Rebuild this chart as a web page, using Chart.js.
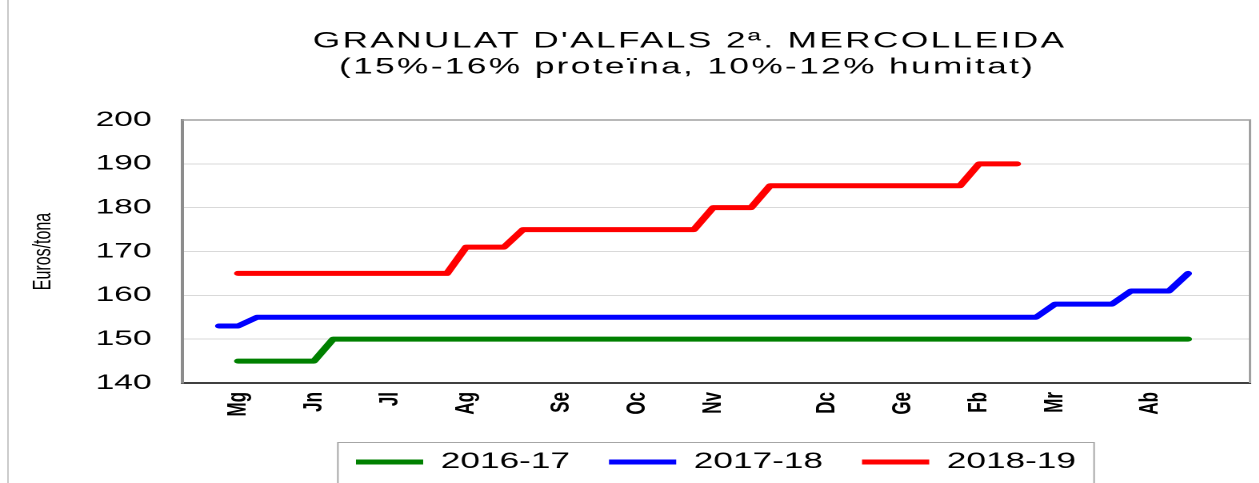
<!DOCTYPE html>
<html><head><meta charset="utf-8">
<script src="https://cdn.jsdelivr.net/npm/chart.js@4.4.1/dist/chart.umd.min.js"></script>
<style>
html,body{margin:0;padding:0;background:#fff;overflow:hidden;}
#wrap{width:787px;height:483px;transform:scaleX(1.6);transform-origin:0 0;}
</style></head><body>
<div id="wrap"><canvas id="c" width="787" height="483"></canvas></div>
<script>
const titleLines = ["GRANULAT D'ALFALS 2ª. MERCOLLEIDA", "(15%-16% proteïna, 10%-12% humitat)"];
const yAxisTitle = 'Euros/tona';
const seriesNames = ['2016-17', '2017-18', '2018-19'];
const seriesColors = ['#008000', '#0000FF', '#FF0000'];
const monthLabels = ['Mg', 'Jn', 'Jl', 'Ag', 'Se', 'Oc', 'Nv', 'Dc', 'Ge', 'Fb', 'Mr', 'Ab'];
const monthWeek = [1, 5, 9, 13, 18, 22, 26, 32, 36, 40, 44, 49];
const yTicks = [140, 150, 160, 170, 180, 190, 200];

const s2016 = [null,
  145, 145, 145, 145, 145,
  150, 150, 150, 150, 150, 150, 150, 150, 150, 150,
  150, 150, 150, 150, 150, 150, 150, 150, 150, 150,
  150, 150, 150, 150, 150, 150, 150, 150, 150, 150,
  150, 150, 150, 150, 150, 150, 150, 150, 150, 150,
  150, 150, 150, 150, 150, 150];
const s2017 = [153, 153,
  155, 155, 155, 155, 155, 155, 155, 155, 155, 155,
  155, 155, 155, 155, 155, 155, 155, 155, 155, 155,
  155, 155, 155, 155, 155, 155, 155, 155, 155, 155,
  155, 155, 155, 155, 155, 155, 155, 155, 155, 155,
  155, 155,
  158, 158, 158, 158,
  161, 161, 161,
  165];
const s2018 = [null,
  165, 165, 165, 165, 165, 165, 165, 165, 165, 165, 165, 165,
  171, 171, 171,
  175, 175, 175, 175, 175, 175, 175, 175, 175, 175,
  180, 180, 180,
  185, 185, 185, 185, 185, 185, 185, 185, 185, 185, 185,
  190, 190, 190,
  null, null, null, null, null, null, null, null, null];
const seriesData = [s2016, s2017, s2018];

const FONT = '"Liberation Sans", Arial, sans-serif';
Chart.defaults.font.family = FONT;
Chart.defaults.color = '#000';

const framePlugin = {
  id: 'frame',
  beforeDatasetsDraw(chart) {
    const {ctx, chartArea: a} = chart;
    ctx.save();
    ctx.strokeStyle = '#a0a0a0';
    ctx.lineWidth = 1.5;
    ctx.beginPath();
    ctx.moveTo(a.left, a.top); ctx.lineTo(a.right, a.top); ctx.lineTo(a.right, a.bottom);
    ctx.stroke();
    ctx.strokeStyle = '#c8c8c8';
    ctx.lineWidth = 1;
    ctx.beginPath(); ctx.moveTo(5, 0); ctx.lineTo(5, 483); ctx.stroke();
    ctx.restore();
  },
  afterDraw(chart) {
    const {ctx} = chart;
    const hb = chart.legend.legendHitBoxes;
    ctx.save();
    if (hb && hb.length) {
      const l = hb[0].left - 11.3;
      const last = hb[hb.length - 1];
      const r = last.left + last.width + 11.3;
      ctx.strokeStyle = '#a6a6a6';
      ctx.lineWidth = 1;
      ctx.strokeRect(l, 442.5, r - l, 60);
    }
    ctx.fillStyle = '#000';
    ctx.font = '22px ' + FONT;
    ctx.textAlign = 'center';
    ctx.textBaseline = 'alphabetic';
    if ('letterSpacing' in ctx) ctx.letterSpacing = '1.5px';
    ctx.fillText(titleLines[0], 431, 47.5);
    ctx.fillText(titleLines[1], 429.5, 73.5);
    ctx.restore();
  }
};

new Chart(document.getElementById('c'), {
  type: 'line',
  data: {
    datasets: seriesNames.map((name, k) => ({
      label: name,
      data: seriesData[k].map((v, i) => ({x: i, y: v})),
      borderColor: seriesColors[k],
      backgroundColor: seriesColors[k],
      borderWidth: 5,
      borderCapStyle: 'round',
      borderJoinStyle: 'round',
      pointRadius: 0,
      pointHoverRadius: 0,
      tension: 0
    }))
  },
  options: {
    responsive: false,
    devicePixelRatio: 2,
    animation: false,
    layout: {padding: {top: 120, right: 5.75, bottom: 0, left: 0}},
    plugins: {
      title: {display: false},
      tooltip: {enabled: false},
      legend: {
        position: 'bottom',
        fullSize: false,
        labels: {
          usePointStyle: true,
          pointStyle: 'line',
          pointStyleWidth: 42,
          boxWidth: 42,
          padding: 24.4,
          color: '#000',
          font: {size: 22}
        }
      }
    },
    scales: {
      x: {
        type: 'linear',
        min: -1.95,
        max: 54.26,
        grid: {display: false, drawTicks: false},
        border: {display: true, color: '#404040', width: 2},
        afterBuildTicks: (s) => { s.ticks = monthWeek.map(v => ({value: v})); },
        afterFit: (s) => { s.height = 43.6; },
        ticks: {
          autoSkip: false,
          minRotation: 90,
          maxRotation: 90,
          padding: 9,
          color: '#000',
          font: {size: 17, weight: 'bold'},
          callback: (v) => { const i = monthWeek.indexOf(v); return i >= 0 ? monthLabels[i] : ''; }
        }
      },
      y: {
        min: 140,
        max: 200,
        afterBuildTicks: (s) => { s.ticks = yTicks.map(v => ({value: v})); },
        afterFit: (s) => { s.width = 113.75; },
        grid: {color: '#d9d9d9', lineWidth: 1, drawTicks: false},
        border: {color: '#8c8c8c', width: 2},
        ticks: {padding: 19, color: '#000', font: {size: 21}},
        title: {display: true, text: yAxisTitle, color: '#000', font: {size: 16}, padding: {top: 17.4, bottom: 0}}
      }
    }
  },
  plugins: [framePlugin]
});
</script>
</body></html>
